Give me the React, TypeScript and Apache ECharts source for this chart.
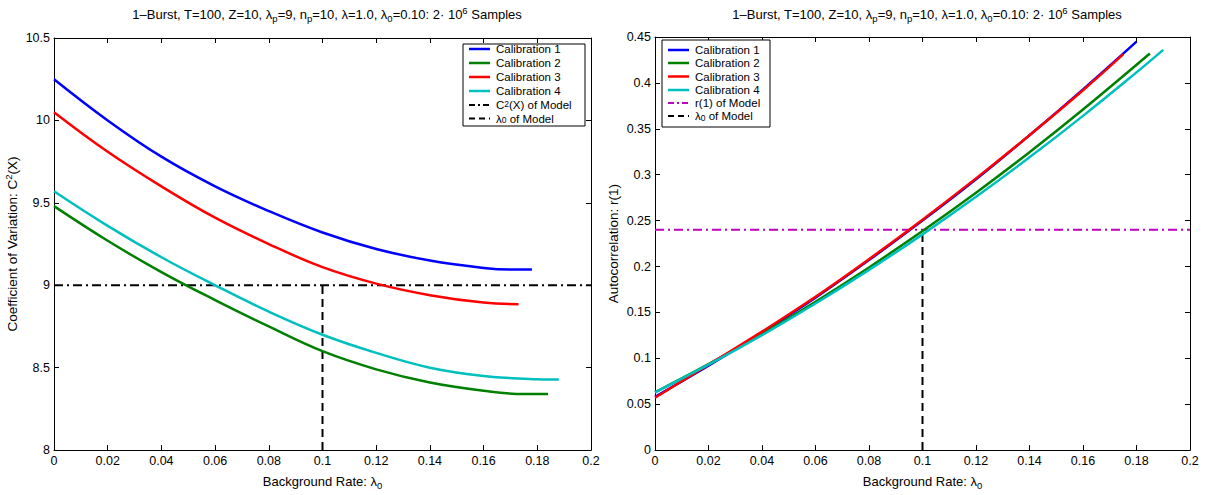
import React, { useEffect, useRef } from "react";
import * as echarts from "echarts";

// ---------- data ----------
const xTickLabels = ["0", "0.02", "0.04", "0.06", "0.08", "0.1", "0.12", "0.14", "0.16", "0.18", "0.2"];
const seriesNames = ["Calibration 1", "Calibration 2", "Calibration 3", "Calibration 4"];
const seriesColors = ["#0000ff", "#008000", "#ff0000", "#00bfbf"];

// Left panel: Coefficient of variation C^2(X)
const cvCal1X = [0, 0.02, 0.04, 0.06, 0.08, 0.1, 0.12, 0.14, 0.16, 0.17, 0.178];
const cvCal1Y = [10.25, 10.0, 9.78, 9.6, 9.45, 9.32, 9.22, 9.15, 9.105, 9.095, 9.095];
const cvCal2X = [0, 0.02, 0.04, 0.06, 0.08, 0.1, 0.12, 0.14, 0.16, 0.175, 0.184];
const cvCal2Y = [9.48, 9.27, 9.08, 8.91, 8.75, 8.6, 8.49, 8.41, 8.36, 8.34, 8.34];
const cvCal3X = [0, 0.02, 0.04, 0.06, 0.08, 0.1, 0.12, 0.14, 0.16, 0.173];
const cvCal3Y = [10.05, 9.81, 9.6, 9.41, 9.25, 9.11, 9.01, 8.94, 8.895, 8.885];
const cvCal4X = [0, 0.02, 0.04, 0.06, 0.08, 0.1, 0.12, 0.14, 0.16, 0.18, 0.188];
const cvCal4Y = [9.57, 9.36, 9.17, 9.0, 8.84, 8.7, 8.59, 8.5, 8.45, 8.43, 8.428];

// Right panel: Autocorrelation r(1)
const acCal1X = [0, 0.02, 0.04, 0.06, 0.08, 0.1, 0.12, 0.14, 0.16, 0.18];
const acCal1Y = [0.058, 0.092, 0.128, 0.166, 0.207, 0.25, 0.295, 0.343, 0.393, 0.445];
const acCal2X = [0, 0.02, 0.04, 0.06, 0.08, 0.1, 0.12, 0.14, 0.16, 0.185];
const acCal2Y = [0.063, 0.0936, 0.1265, 0.1616, 0.199, 0.2386, 0.2804, 0.3245, 0.371, 0.432];
const acCal3X = [0, 0.02, 0.04, 0.06, 0.08, 0.1, 0.12, 0.14, 0.16, 0.175];
const acCal3Y = [0.057, 0.093, 0.129, 0.167, 0.208, 0.251, 0.296, 0.343, 0.392, 0.431];
const acCal4X = [0, 0.02, 0.04, 0.06, 0.08, 0.1, 0.12, 0.14, 0.16, 0.18, 0.19];
const acCal4Y = [0.063, 0.0931, 0.1253, 0.1597, 0.1963, 0.235, 0.2759, 0.3189, 0.3641, 0.4115, 0.436];

// Model reference values
const modelLambda0 = 0.1;
const modelC2 = 9;
const modelR1 = 0.24;

const cvYTicks = ["8", "8.5", "9", "9.5", "10", "10.5"];
const acYTicks = ["0", "0.05", "0.1", "0.15", "0.2", "0.25", "0.3", "0.35", "0.4", "0.45"];

const FONT = "Liberation Sans, Arial, Helvetica, sans-serif";

const zip = (xs: number[], ys: number[]) => xs.map((x, i) => [x, ys[i]]);

const cvData = [zip(cvCal1X, cvCal1Y), zip(cvCal2X, cvCal2Y), zip(cvCal3X, cvCal3Y), zip(cvCal4X, cvCal4Y)];
const acData = [zip(acCal1X, acCal1Y), zip(acCal2X, acCal2Y), zip(acCal3X, acCal3Y), zip(acCal4X, acCal4Y)];

const richSubSup = {
  sub: { fontSize: 9.5, fontFamily: FONT, color: "#000", verticalAlign: "bottom", lineHeight: 9 },
  sup: { fontSize: 9.5, fontFamily: FONT, color: "#000", verticalAlign: "top", lineHeight: 9 },
};

const titleText = "1\u2013Burst, T=100, Z=10, \u03bb{sub|p}=9, n{sub|p}=10, \u03bb=1.0, \u03bb{sub|0}=0.10: 2\u00b7 10{sup|6} Samples";

function xAxisPair(grid: number) {
  const base = {
    type: "value",
    gridIndex: grid,
    min: 0,
    max: 0.2,
    interval: 0.02,
    splitLine: { show: false },
    axisLine: { show: true, onZero: false, lineStyle: { color: "#000", width: 1 } },
    axisTick: { show: true, inside: true, length: 5, lineStyle: { color: "#000" } },
  };
  return [
    {
      ...base,
      position: "bottom",
      axisLabel: {
        show: true,
        margin: 4,
        color: "#000",
        fontSize: 12.5,
        fontFamily: FONT,
        formatter: (v: number) => xTickLabels[Math.round(v / 0.02)],
      },
      name: "Background Rate: \u03bb{sub|0}",
      nameLocation: "middle",
      nameGap: 14,
      nameTextStyle: { color: "#000", fontSize: 13, fontFamily: FONT, lineHeight: 18, rich: richSubSup },
    },
    { ...base, position: "top", axisLabel: { show: false } },
  ];
}

function yAxisPair(grid: number, min: number, max: number, interval: number, labels: string[], name: string, gap: number) {
  const base = {
    type: "value",
    gridIndex: grid,
    min,
    max,
    interval,
    splitLine: { show: false },
    axisLine: { show: true, onZero: false, lineStyle: { color: "#000", width: 1 } },
    axisTick: { show: true, inside: true, length: 5, lineStyle: { color: "#000" } },
  };
  return [
    {
      ...base,
      position: "left",
      axisLabel: {
        show: true,
        margin: 4,
        color: "#000",
        fontSize: 12.5,
        fontFamily: FONT,
        formatter: (v: number) => labels[Math.round((v - min) / interval)],
      },
      name,
      nameLocation: "middle",
      nameGap: gap,
      nameRotate: 90,
      nameTextStyle: { color: "#000", fontSize: 13.5, fontFamily: FONT, lineHeight: 18, rich: richSubSup },
    },
    { ...base, position: "right", axisLabel: { show: false } },
  ];
}

function legendGraphic(
  box: { x: number; y: number; w: number; h: number },
  rows: number[],
  sx: number,
  tx: number,
  extra: { label: string; color: string; dash: number[] }[]
) {
  const children: any[] = [
    {
      type: "rect",
      shape: { x: box.x, y: box.y, width: box.w, height: box.h },
      style: { fill: "#fff", stroke: "#000", lineWidth: 1 },
      z: 100,
    },
  ];
  const items = [
    ...seriesNames.map((n, i) => ({ label: n, color: seriesColors[i], dash: null as any, width: 2.5 })),
    ...extra.map((e) => ({ ...e, width: 2 })),
  ];
  items.forEach((it, i) => {
    children.push({
      type: "line",
      shape: { x1: sx, y1: rows[i], x2: sx + 21, y2: rows[i] },
      style: { stroke: it.color, lineWidth: it.width, lineDash: it.dash || null },
      z: 101,
    });
    children.push({
      type: "text",
      x: tx,
      y: rows[i],
      style: {
        text: it.label,
        fill: "#000",
        fontSize: 11.5,
        fontFamily: FONT,
        verticalAlign: "middle",
        align: "left",
        rich: {
          sub: { fontSize: 8.5, fontFamily: FONT, fill: "#000", verticalAlign: "bottom", lineHeight: 8 },
          sup: { fontSize: 8.5, fontFamily: FONT, fill: "#000", verticalAlign: "top", lineHeight: 8 },
        },
      },
      z: 101,
    });
  });
  return { type: "group", children };
}

export default function App() {
  const ref = useRef<HTMLDivElement>(null);

  useEffect(() => {
    if (!ref.current) return;
    const chart = echarts.init(ref.current, null, { renderer: "svg" });

    const lineSeries = (data: number[][], color: string, name: string, xi: number, yi: number) => ({
      type: "line",
      name,
      xAxisIndex: xi,
      yAxisIndex: yi,
      data,
      smooth: 0.4,
      showSymbol: false,
      symbol: "none",
      lineStyle: { color, width: 2.5 },
      itemStyle: { color },
      z: 5,
    });

    const series: any[] = [];
    cvData.forEach((d, i) => series.push(lineSeries(d, seriesColors[i], seriesNames[i], 0, 0)));
    series.push({
      type: "line",
      name: "C2 of Model",
      xAxisIndex: 0,
      yAxisIndex: 0,
      data: [[0, modelC2], [0.2, modelC2]],
      symbol: "none",
      lineStyle: { color: "#000", width: 2, type: [9, 4, 2, 4] },
      z: 4,
    });
    series.push({
      type: "line",
      name: "lambda0 of Model (left)",
      xAxisIndex: 0,
      yAxisIndex: 0,
      data: [[modelLambda0, 8], [modelLambda0, modelC2]],
      symbol: "none",
      lineStyle: { color: "#000", width: 2, type: [8, 5] },
      z: 4,
    });
    acData.forEach((d, i) => series.push(lineSeries(d, seriesColors[i], seriesNames[i], 2, 2)));
    series.push({
      type: "line",
      name: "r1 of Model",
      xAxisIndex: 2,
      yAxisIndex: 2,
      data: [[0, modelR1], [0.2, modelR1]],
      symbol: "none",
      lineStyle: { color: "#bf00bf", width: 2, type: [9, 4, 2, 4] },
      z: 4,
    });
    series.push({
      type: "line",
      name: "lambda0 of Model (right)",
      xAxisIndex: 2,
      yAxisIndex: 2,
      data: [[modelLambda0, 0], [modelLambda0, modelR1]],
      symbol: "none",
      lineStyle: { color: "#000", width: 2, type: [8, 5] },
      z: 4,
    });

    const titleStyle = {
      fontSize: 13,
      fontWeight: "normal",
      fontFamily: FONT,
      color: "#000",
      lineHeight: 18,
      rich: richSubSup,
    };

    chart.setOption({
      animation: false,
      backgroundColor: "#fff",
      title: [
        { text: titleText, left: 322, top: 0, textAlign: "center", textStyle: titleStyle },
        { text: titleText, left: 922, top: 0, textAlign: "center", textStyle: titleStyle },
      ],
      grid: [
        { left: 54, top: 38, width: 537, height: 420 },
        { left: 655, top: 37, width: 535, height: 421 },
      ],
      xAxis: [...xAxisPair(0), ...xAxisPair(1)],
      yAxis: [
        ...yAxisPair(0, 8, 10.5, 0.5, cvYTicks, "Coefficient of Variation: C{sup|2}(X)", 25),
        ...yAxisPair(1, 0, 0.45, 0.05, acYTicks, "Autocorrelation: r(1)", 23),
      ],
      series,
      graphic: [
        legendGraphic({ x: 463, y: 44, w: 122, h: 82 }, [49, 63, 77, 91, 105, 118.5], 469, 496, [
          { label: "C{sup|2}(X) of Model", color: "#000", dash: [6, 3, 2, 3] },
          { label: "\u03bb{sub|0} of Model", color: "#000", dash: [6, 4] },
        ]),
        legendGraphic({ x: 662, y: 40, w: 108, h: 87 }, [50, 63, 76.5, 90, 103, 116], 668, 695, [
          { label: "r(1) of Model", color: "#bf00bf", dash: [6, 3, 2, 3] },
          { label: "\u03bb{sub|0} of Model", color: "#000", dash: [6, 4] },
        ]),
      ],
    });

    return () => chart.dispose();
  }, []);

  return <div ref={ref} style={{ position: "fixed", left: 0, top: 0, width: 1208, height: 495 }} />;
}
